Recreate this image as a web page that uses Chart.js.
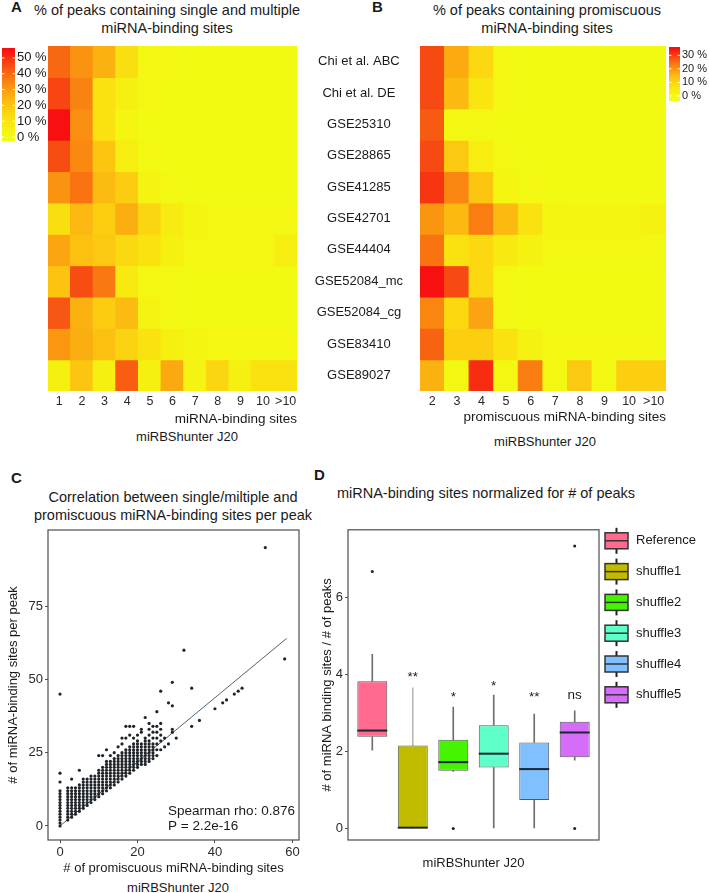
<!DOCTYPE html>
<html lang="en">
<head>
    <meta charset="UTF-8">
    <title>miRBShunter J20 - binding sites</title>
    <script src="https://cdn.jsdelivr.net/npm/chart.js@4.4.1/dist/chart.umd.min.js"></script>
    <style>
        body {
            margin: 0;
            width: 709px;
            height: 893px;
            position: relative;
            overflow: hidden;
            background: #fff;
            font-family: "Liberation Sans", Arial, sans-serif;
            color: #1a1a1a;
        }
        canvas { position: absolute; }
        .txt { position: absolute; white-space: nowrap; text-align: center; }
        .letter { font-weight: bold; font-size: 15px; line-height: 18px; }
        .title { font-size: 14.5px; line-height: 18px; }
        .sub { font-size: 13px; line-height: 16px; }
    </style>
</head>
<body>
    <div class="txt letter" style="left:11px; top:-2px">A</div>
    <div class="txt letter" style="left:372px; top:-2px">B</div>
    <div class="txt letter" style="left:11px; top:469px">C</div>
    <div class="txt letter" style="left:314px; top:466px">D</div>

    <div class="txt title" style="left:0; width:334px; top:1px">% of peaks containing single and multiple<br>miRNA-binding sites</div>
    <div class="txt title" style="left:397px; width:300px; top:1px">% of peaks containing promiscuous<br>miRNA-binding sites</div>
    <div class="txt title" style="left:23px; width:300px; top:488px">Correlation between single/miltiple and<br>promiscuous miRNA-binding sites per peak</div>
    <div class="txt title" style="left:336px; width:300px; top:484px">miRNA-binding sites normalized for # of peaks</div>

    <div class="txt sub" style="left:87px; width:200px; top:429px">miRBShunter J20</div>
    <div class="txt sub" style="left:445px; width:200px; top:434px">miRBShunter J20</div>
    <div class="txt sub" style="left:78px; width:200px; top:880px">miRBShunter J20</div>

    <canvas id="heatA" width="305" height="440" style="left:0; top:0"></canvas>
    <canvas id="heatB" width="404" height="440" style="left:305px; top:0"></canvas>
    <canvas id="scatterC" width="305" height="360" style="left:0; top:520px"></canvas>
    <canvas id="boxD" width="404" height="360" style="left:305px; top:520px"></canvas>

    <script>
        // ---- heatmaps (A, B) ----
        var rowNames = ['Chi et al. ABC', 'Chi et al. DE', 'GSE25310', 'GSE28865', 'GSE41285', 'GSE42701',
            'GSE44404', 'GSE52084_mc', 'GSE52084_cg', 'GSE83410', 'GSE89027'];
        var sitesA = ['1', '2', '3', '4', '5', '6', '7', '8', '9', '10', '>10'];
        var sitesB = ['2', '3', '4', '5', '6', '7', '8', '9', '10', '>10'];

        // % of peaks, rows top to bottom
        var pctSingle = [
            [40, 32, 25, 12, 2, 1.5, 1, 1, 1, 1, 1],
            [46, 35, 11, 5, 1.5, 1, 1, 1, 1, 1, 1],
            [55, 33, 11, 3, 1, 1, 1, 1, 1, 1, 1],
            [45, 34, 20, 6, 1.5, 1, 1, 1, 1, 1, 1],
            [32, 38, 23, 18, 4, 1.5, 1, 1, 1, 1, 1],
            [12, 24, 17, 26, 15, 7, 3, 2, 2, 2, 2],
            [28, 22, 19, 14, 11, 5, 2, 2, 2, 2, 6],
            [21, 45, 37, 8, 2, 1.5, 1, 1, 1, 1, 1],
            [43, 25, 18, 23, 4, 1.5, 1, 1, 1, 1, 1],
            [31, 26, 22, 16, 11, 5, 3, 2, 2, 2, 2],
            [5, 20, 5, 42, 5, 27, 4, 15, 5, 11, 11]
        ];
        var pctPromiscuous = [
            [29, 17, 9, 1, 0.5, 0.5, 0.5, 0.5, 0.5, 0.5],
            [29, 15, 6, 1, 0.5, 0.5, 0.5, 0.5, 0.5, 0.5],
            [27, 1, 1, 0.5, 0.5, 0.5, 0.5, 0.5, 0.5, 0.5],
            [29, 12, 4, 1, 0.5, 0.5, 0.5, 0.5, 0.5, 0.5],
            [31, 22, 13, 2, 1, 0.5, 0.5, 0.5, 0.5, 0.5],
            [20, 15, 23, 15, 7, 2, 1.5, 1.5, 1.5, 3],
            [24, 7, 9, 5, 3, 1, 1, 1, 1, 1],
            [35, 29, 9, 1, 0.5, 0.5, 0.5, 0.5, 0.5, 0.5],
            [22, 9, 18, 1, 0.5, 0.5, 0.5, 0.5, 0.5, 0.5],
            [26, 11, 11, 7, 3, 1, 1, 1, 1, 1],
            [16, 1, 32, 1, 23, 1, 12, 1, 11, 11]
        ];
        var maxA = 55, maxB = 35;
        var barTicksA = [0, 10, 20, 30, 40, 50];
        var barTicksB = [0, 10, 20, 30];

        // ---- scatter (C) ----
        var colX = [0, 2, 3, 4, 5, 6, 7, 8, 9, 10, 11, 12, 13, 14, 15, 16, 17, 18, 19, 20, 21, 22, 23, 24, 25, 26,
            27, 28, 29, 30, 32, 34, 36, 40, 42, 43, 45, 46, 47, 53, 58];
        var colY = [
            [0, 1, 2, 3, 4, 5, 6, 7, 8, 9, 10, 11, 12, 15, 18, 45],
            [2, 3, 4, 5, 6, 7, 8, 9, 10, 11, 12, 13],
            [3, 4, 5, 6, 7, 8, 9, 10, 11, 12, 13, 16],
            [4, 5, 6, 7, 8, 9, 10, 11, 12, 13],
            [5, 6, 7, 8, 9, 10, 11, 12, 13, 14, 19],
            [6, 7, 8, 9, 10, 11, 12, 13, 14, 15, 16],
            [7, 8, 9, 10, 11, 12, 13, 14, 15, 16],
            [8, 9, 10, 11, 12, 13, 14, 15, 16, 17],
            [9, 10, 11, 12, 13, 14, 15, 16, 17],
            [10, 11, 12, 13, 14, 15, 16, 17, 18, 19, 24],
            [11, 12, 13, 14, 15, 16, 17, 18, 19, 20, 24],
            [12, 13, 14, 15, 16, 17, 18, 19, 20, 21, 22, 26],
            [13, 14, 15, 16, 17, 18, 19, 20, 21, 22, 24],
            [14, 15, 16, 17, 18, 19, 20, 21, 22, 23, 25],
            [15, 16, 17, 18, 19, 20, 21, 22, 23, 24, 27],
            [16, 17, 18, 19, 20, 21, 22, 23, 24, 25, 28, 30],
            [17, 18, 19, 20, 21, 22, 23, 24, 25, 26, 30, 34],
            [18, 19, 20, 21, 22, 23, 24, 25, 26, 27, 31, 34],
            [19, 20, 21, 22, 23, 24, 25, 26, 27, 28, 30, 34],
            [20, 21, 22, 23, 24, 25, 26, 27, 28, 29, 31],
            [21, 22, 23, 24, 25, 26, 27, 28, 32, 33],
            [21, 22, 23, 24, 25, 26, 27, 28, 29, 30, 37],
            [22, 23, 24, 25, 26, 27, 28, 29, 31, 33, 35],
            [23, 24, 25, 26, 27, 28, 30, 32, 34],
            [24, 26, 28, 30, 32, 34, 39],
            [26, 29, 31, 33, 35, 46],
            [27, 30],
            [28, 42],
            [32, 33, 41, 49],
            [30],
            [60],
            [34, 47],
            [36],
            [40],
            [42],
            [43],
            [45],
            [46],
            [47],
            [95],
            [57]
        ];
        var fitX = [0, 58.5];
        var fitY = [0, 64];
        var xTicksC = [0, 20, 40, 60];
        var yTicksC = [0, 25, 50, 75];

        // ---- boxplot (D) ----
        var groups = ['Reference', 'shuffle1', 'shuffle2', 'shuffle3', 'shuffle4', 'shuffle5'];
        var whiskLow = [2.03, 0, 1.48, 0, 0, 1.77];
        var q1 = [2.38, 0, 1.5, 1.58, 0.74, 1.85];
        var medians = [2.54, 0.02, 1.72, 1.94, 1.54, 2.49];
        var q3 = [3.82, 2.15, 2.3, 2.68, 2.23, 2.77];
        var whiskHigh = [4.52, 3.65, 3.15, 3.46, 2.97, 3.05];
        var outlierGroup = ['Reference', 'shuffle2', 'shuffle5', 'shuffle5'];
        var outlierVal = [6.67, 0, 7.33, 0];
        var sigLabels = ['', '**', '*', '*', '**', 'ns'];
        var sigY = [0, 3.82, 3.31, 3.59, 3.31, 3.35];
        var yTicksD = [0, 2, 4, 6];
        var boxFills = ['#FF6A8E', '#C2BC00', '#45F500', '#5EFFC8', '#80C0FF', '#D66CFA'];
        var whiskColors = ['#6e6e6e', '#b8b8b8', '#6e6e6e', '#6e6e6e', '#6e6e6e', '#6e6e6e'];

        var FONT = '"Liberation Sans", Arial, sans-serif';
        Chart.defaults.font.family = FONT;
        Chart.defaults.color = '#1a1a1a';

        var heatStops = [[0, [242, 252, 18]], [0.2, [250, 226, 16]], [0.4, [252, 192, 16]],
            [0.6, [250, 142, 16]], [0.8, [247, 82, 18]], [1, [248, 16, 16]]];
        function heatColor(v, max) {
            var t = Math.max(0, Math.min(1, v / max));
            for (var i = 1; i < heatStops.length; i++) {
                if (t <= heatStops[i][0]) {
                    var t0 = heatStops[i - 1][0], c0 = heatStops[i - 1][1];
                    var t1 = heatStops[i][0], c1 = heatStops[i][1];
                    var f = (t - t0) / (t1 - t0);
                    return 'rgb(' + c0.map(function (c, k) { return Math.round(c + (c1[k] - c) * f); }).join(',') + ')';
                }
            }
            return 'rgb(248,16,16)';
        }

        // colour bar legend drawn beside a heatmap
        function colorbar(cfg) {
            return {
                id: 'colorbar',
                afterDraw: function (chart) {
                    var ctx = chart.ctx;
                    var pos = function (v) { return cfg.zeroY - (v / cfg.max) * (cfg.zeroY - cfg.maxY); };
                    var grad = ctx.createLinearGradient(0, cfg.zeroY, 0, cfg.maxY);
                    for (var i = 0; i <= 20; i++) grad.addColorStop(i / 20, heatColor(cfg.max * i / 20, cfg.max));
                    ctx.save();
                    ctx.fillStyle = grad;
                    ctx.fillRect(cfg.x, cfg.top, cfg.w, cfg.bottom - cfg.top);
                    ctx.font = cfg.fontSize + 'px ' + FONT;
                    ctx.textBaseline = 'middle';
                    ctx.textAlign = 'left';
                    cfg.ticks.forEach(function (v) {
                        var y = pos(v);
                        ctx.strokeStyle = 'rgba(255,255,255,0.9)';
                        ctx.lineWidth = 1;
                        ctx.beginPath();
                        ctx.moveTo(cfg.x, y); ctx.lineTo(cfg.x + 2.5, y);
                        ctx.moveTo(cfg.x + cfg.w - 2.5, y); ctx.lineTo(cfg.x + cfg.w, y);
                        ctx.stroke();
                        ctx.fillStyle = '#1a1a1a';
                        ctx.fillText(v + ' %', cfg.x + cfg.w + 2, y);
                    });
                    ctx.restore();
                }
            };
        }

        function heatmap(id, cols, matrix, max, yLabels, xTitle, pad, bar) {
            var n = rowNames.length;
            return new Chart(document.getElementById(id), {
                type: 'bar',
                data: {
                    labels: cols,
                    datasets: matrix.map(function (row, r) {
                        return {
                            label: rowNames[r],
                            data: row.map(function () { return [n - 1 - r, n - r]; }),
                            backgroundColor: row.map(function (v) { return heatColor(v, max); }),
                            borderWidth: 0,
                            inflateAmount: 0.6,
                            grouped: false,
                            barPercentage: 1,
                            categoryPercentage: 1
                        };
                    })
                },
                options: {
                    responsive: false,
                    animation: false,
                    devicePixelRatio: 1,
                    layout: { padding: pad },
                    plugins: { legend: { display: false }, tooltip: { enabled: false } },
                    scales: {
                        x: {
                            grid: { display: false, drawTicks: false },
                            border: { display: false },
                            ticks: { font: { size: 12.5 }, color: '#2a2a2a', padding: 3, maxRotation: 0, autoSkip: false },
                            title: { display: true, text: xTitle, align: 'end', font: { size: 13.5 }, padding: { top: 0, bottom: xTitle.length > 20 ? 15 : 13 } },
                            afterFit: function (s) { s.height = 49; }
                        },
                        y: {
                            display: yLabels,
                            min: 0,
                            max: n,
                            grid: { display: false, drawTicks: false },
                            border: { display: false },
                            afterBuildTicks: function (s) {
                                s.ticks = rowNames.map(function (nm, i) { return { value: n - 0.5 - i }; });
                            },
                            ticks: {
                                autoSkip: false,
                                font: { size: 13 },
                                color: '#1a1a1a',
                                crossAlign: 'center',
                                padding: 17,
                                callback: function (v, i) { return rowNames[i]; }
                            },
                            afterFit: function (s) { if (yLabels) s.width = 115; }
                        }
                    }
                },
                plugins: [colorbar(bar)]
            });
        }

        heatmap('heatA', sitesA, pctSingle, maxA, false, 'miRNA-binding sites',
            { left: 48, right: 8, top: 46 },
            { x: 2, w: 13, top: 48, bottom: 141, zeroY: 137, maxY: 50, max: maxA, ticks: barTicksA, fontSize: 13 });

        heatmap('heatB', sitesB, pctPromiscuous, maxB, true, 'promiscuous miRNA-binding sites',
            { left: 0, right: 43, top: 46 },
            { x: 364, w: 11, top: 47, bottom: 101, zeroY: 96, maxY: 48.5, max: maxB, ticks: barTicksB, fontSize: 11 });

        // ---- panel frame ----
        var frame = {
            id: 'frame',
            afterDatasetsDraw: function (chart) {
                var a = chart.chartArea, ctx = chart.ctx;
                ctx.save();
                ctx.strokeStyle = '#4d4d4d';
                ctx.lineWidth = 1.2;
                ctx.strokeRect(a.left, a.top, a.right - a.left, a.bottom - a.top);
                ctx.restore();
            }
        };

        // ---- C scatter ----
        var points = [];
        colX.forEach(function (x, i) {
            colY[i].forEach(function (y) { points.push({ x: x, y: y }); });
        });

        var spearman = {
            id: 'spearman',
            afterDatasetsDraw: function (chart) {
                var ctx = chart.ctx, sx = chart.scales.x, sy = chart.scales.y;
                ctx.save();
                ctx.font = '13.5px ' + FONT;
                ctx.fillStyle = '#1a1a1a';
                ctx.textBaseline = 'middle';
                ctx.fillText('Spearman rho: 0.876', sx.getPixelForValue(27.9), sy.getPixelForValue(5.1));
                ctx.fillText('P = 2.2e-16', sx.getPixelForValue(27.9), sy.getPixelForValue(0));
                ctx.restore();
            }
        };

        new Chart(document.getElementById('scatterC'), {
            type: 'scatter',
            data: {
                datasets: [
                    {
                        data: points,
                        pointRadius: 1.6,
                        pointBorderWidth: 0,
                        backgroundColor: '#1f2429'
                    },
                    {
                        type: 'line',
                        data: fitX.map(function (x, i) { return { x: x, y: fitY[i] }; }),
                        borderColor: '#4f6270',
                        borderWidth: 1,
                        pointRadius: 0
                    }
                ]
            },
            options: {
                responsive: false,
                animation: false,
                devicePixelRatio: 1,
                layout: { padding: { top: 10, right: 6 } },
                plugins: { legend: { display: false }, tooltip: { enabled: false } },
                scales: {
                    x: {
                        type: 'linear',
                        min: -3.1,
                        max: 61.7,
                        afterBuildTicks: function (s) { s.ticks = xTicksC.map(function (v) { return { value: v }; }); },
                        grid: { drawOnChartArea: false, tickLength: 3, color: '#4d4d4d' },
                        border: { display: false },
                        ticks: { font: { size: 13 }, color: '#2a2a2a', padding: 2, maxRotation: 0 },
                        title: { display: true, text: '# of promiscuous miRNA-binding sites', font: { size: 13 }, padding: { top: 0, bottom: 4 } },
                        afterFit: function (s) { s.height = 40; }
                    },
                    y: {
                        min: -4.8,
                        max: 101,
                        afterBuildTicks: function (s) { s.ticks = yTicksC.map(function (v) { return { value: v }; }); },
                        grid: { drawOnChartArea: false, tickLength: 3, color: '#4d4d4d' },
                        border: { display: false },
                        ticks: { font: { size: 13 }, color: '#2a2a2a', padding: 2 },
                        title: { display: true, text: '# of miRNA-binding sites per peak', font: { size: 13 }, padding: { top: 6, bottom: 0 } },
                        afterFit: function (s) { s.width = 48; }
                    }
                }
            },
            plugins: [frame, spearman]
        });

        // ---- D boxplot ----
        var boxExtras = {
            id: 'boxExtras',
            afterDatasetsDraw: function (chart) {
                var ctx = chart.ctx, sy = chart.scales.y, area = chart.chartArea;
                var boxes = chart.getDatasetMeta(0).data;
                ctx.save();
                boxes.forEach(function (bar, i) {
                    var py = sy.getPixelForValue(medians[i]);
                    ctx.strokeStyle = '#1b2531';
                    ctx.lineWidth = 2;
                    ctx.beginPath();
                    ctx.moveTo(bar.x - bar.width / 2, py);
                    ctx.lineTo(bar.x + bar.width / 2, py);
                    ctx.stroke();
                    if (sigLabels[i]) {
                        ctx.fillStyle = '#1a1a1a';
                        ctx.font = '13.5px ' + FONT;
                        ctx.textAlign = 'center';
                        ctx.textBaseline = 'alphabetic';
                        ctx.fillText(sigLabels[i], bar.x, sy.getPixelForValue(sigY[i]));
                    }
                });
                // legend with box glyphs
                var left = area.right + 6;
                groups.forEach(function (g, i) {
                    var cy = area.top + 11 + i * 30.8;
                    var cx = left + 11.5;
                    ctx.strokeStyle = '#222';
                    ctx.lineWidth = 2;
                    ctx.beginPath();
                    ctx.moveTo(cx, cy - 13); ctx.lineTo(cx, cy + 13);
                    ctx.stroke();
                    ctx.fillStyle = boxFills[i];
                    ctx.fillRect(left, cy - 8, 23, 16);
                    ctx.lineWidth = 1.5;
                    ctx.strokeStyle = '#333';
                    ctx.strokeRect(left, cy - 8, 23, 16);
                    ctx.beginPath();
                    ctx.moveTo(left, cy); ctx.lineTo(left + 23, cy);
                    ctx.stroke();
                    ctx.fillStyle = '#1a1a1a';
                    ctx.font = '13px ' + FONT;
                    ctx.textAlign = 'left';
                    ctx.textBaseline = 'middle';
                    ctx.fillText(g, left + 31, cy);
                });
                ctx.restore();
            }
        };

        function pos(i) { return i + 1; }

        new Chart(document.getElementById('boxD'), {
            type: 'bar',
            data: {
                datasets: [
                    {
                        data: groups.map(function (g, i) { return { x: pos(i), y: [q1[i], q3[i]] }; }),
                        backgroundColor: boxFills,
                        borderColor: '#5a5a5a',
                        borderWidth: 1,
                        borderSkipped: false,
                        grouped: false,
                        barPercentage: 0.74,
                        categoryPercentage: 1
                    },
                    {
                        data: groups.map(function (g, i) { return { x: pos(i), y: [whiskLow[i], q1[i]] }; }),
                        backgroundColor: whiskColors,
                        barThickness: 1,
                        grouped: false
                    },
                    {
                        data: groups.map(function (g, i) { return { x: pos(i), y: [q3[i], whiskHigh[i]] }; }),
                        backgroundColor: whiskColors,
                        barThickness: 1,
                        grouped: false
                    },
                    {
                        type: 'scatter',
                        data: outlierGroup.map(function (g, i) { return { x: pos(groups.indexOf(g)), y: outlierVal[i] }; }),
                        pointRadius: 1.5,
                        pointBorderWidth: 0,
                        backgroundColor: '#1f2429'
                    }
                ]
            },
            options: {
                responsive: false,
                animation: false,
                devicePixelRatio: 1,
                layout: { padding: { top: 7, right: 110 } },
                plugins: { legend: { display: false }, tooltip: { enabled: false } },
                scales: {
                    x: {
                        type: 'linear',
                        min: 0.4,
                        max: 6.6,
                        offset: false,
                        grid: { display: false },
                        border: { display: false },
                        ticks: { display: false },
                        title: { display: true, text: 'miRBShunter J20', font: { size: 13 }, padding: { top: 0, bottom: 9 } },
                        afterFit: function (s) { s.height = 40; }
                    },
                    y: {
                        min: -0.3,
                        max: 7.75,
                        afterBuildTicks: function (s) { s.ticks = yTicksD.map(function (v) { return { value: v }; }); },
                        grid: { drawOnChartArea: false, tickLength: 3, color: '#4d4d4d' },
                        border: { display: false },
                        ticks: { font: { size: 13 }, color: '#2a2a2a', padding: 2 },
                        title: { display: true, text: '# of miRNA binding sites / # of peaks', font: { size: 13 }, padding: { top: 15, bottom: 0 } },
                        afterFit: function (s) { s.width = 43; }
                    }
                }
            },
            plugins: [frame, boxExtras]
        });
    </script>
</body>
</html>
